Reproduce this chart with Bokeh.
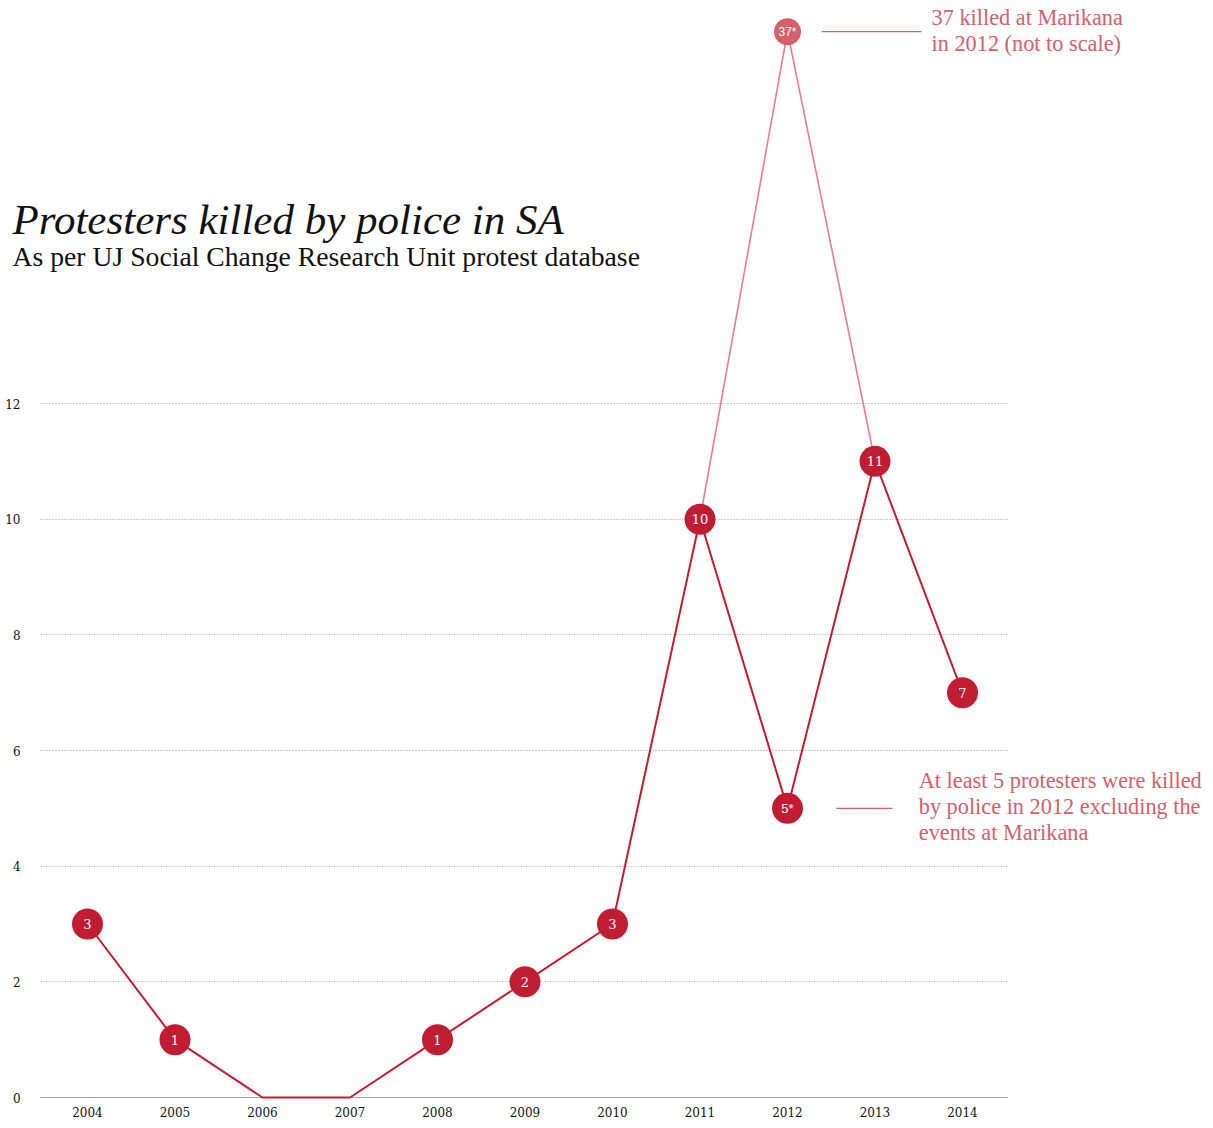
from bokeh.plotting import figure
from bokeh.models import FixedTicker, Range1d, Label
from bokeh.core.properties import value
from bokeh.embed import file_html
from bokeh.resources import INLINE

# ---- data ----
years = [2004, 2005, 2006, 2007, 2008, 2009, 2010, 2011, 2012, 2013, 2014]
killed = [3, 1, 0, 0, 1, 2, 3, 10, 5, 11, 7]
point_labels = ["3", "1", "", "", "1", "2", "3", "10", "5*", "11", "7"]
# Marikana path: 2012 value of 37 is drawn "not to scale"
marikana_years = [2011, 2012, 2013]
marikana_plot_values = [10, 18.43, 11]
marikana_label = "37*"
y_ticks = [0, 2, 4, 6, 8, 10, 12]

RED = "#c01d32"
PINK = "#d4606c"
PALE = "#e27f8b"

X0, X1 = 2003.0057, 2016.7771     # full canvas
PX0, PX1 = 2003.463, 2014.514     # plotting area (grid / axis extent)
Y0, Y1 = -0.3977, 18.969

p = figure(width=1205, height=1120, output_backend="svg", toolbar_location=None,
           x_range=Range1d(X0, X1), y_range=Range1d(Y0, Y1),
           min_border_left=0, min_border_right=0, min_border_top=0,
           min_border_bottom=0)
p.outline_line_color = None
p.background_fill_color = "white"
p.border_fill_color = "white"

# axes (fixed inside the canvas)
p.xaxis.ticker = FixedTicker(ticks=years)
p.yaxis.ticker = FixedTicker(ticks=y_ticks)
p.xaxis.fixed_location = 0
p.yaxis.fixed_location = PX0
p.xaxis.bounds = (PX0, PX1)
p.yaxis.bounds = (0, 12)
p.xaxis.level = "underlay"
p.xaxis.major_tick_line_color = None
p.xaxis.minor_tick_line_color = None
p.yaxis.major_tick_line_color = None
p.yaxis.minor_tick_line_color = None
p.yaxis.axis_line_color = None
p.xaxis.axis_line_color = "#aaaaaa"
p.xaxis.axis_line_width = 1
for ax in (p.xaxis, p.yaxis):
    ax.major_label_text_font = "DejaVu Serif"
    ax.major_label_text_font_size = "12px"
    ax.major_label_text_color = "#111111"
p.xaxis.major_label_standoff = 3
p.yaxis.major_label_standoff = 14
p.xgrid.grid_line_color = None

grid = p.ygrid[0]
if "cross_bounds" in grid.properties():
    grid.cross_bounds = (PX0, PX1)
    grid.grid_line_color = "#999999"
    grid.grid_line_dash = "1 2"
    grid.grid_line_width = 1
else:
    grid.grid_line_color = None
    gy = [t for t in y_ticks if t > 0]
    p.segment(x0=[PX0] * len(gy), y0=gy, x1=[PX1] * len(gy), y1=gy,
              line_color="#999999", line_dash="1 2", line_width=1)

# Marikana pale path
p.line(marikana_years, marikana_plot_values, line_color=PALE, line_width=1.6)

# main line
p.line(years, killed, line_color=RED, line_width=2)

# markers for non-zero values
nz = [i for i, v in enumerate(killed) if v > 0]
p.scatter([years[i] for i in nz], [killed[i] for i in nz], size=31,
          marker="circle", fill_color=RED, line_color=None)

serif_idx = [i for i in nz if "*" not in point_labels[i]]
star_idx = [i for i in nz if "*" in point_labels[i]]
p.text([years[i] for i in serif_idx], [killed[i] for i in serif_idx],
       text=[point_labels[i] for i in serif_idx], text_color="white",
       text_font=value("DejaVu Serif"), text_font_size="13px",
       text_align="center", text_baseline="middle")
p.text([years[i] for i in star_idx], [killed[i] for i in star_idx],
       text=[point_labels[i] for i in star_idx], text_color="white",
       text_font=value("Liberation Sans"), text_font_size="13px",
       text_align="center", text_baseline="middle")

# Marikana marker
p.scatter([marikana_years[1]], [marikana_plot_values[1]], size=27,
          marker="circle", fill_color=PINK, line_color=None)
p.text([marikana_years[1]], [marikana_plot_values[1]], text=[marikana_label],
       text_color="white", text_font=value("Liberation Sans"),
       text_font_size="12px", text_align="center", text_baseline="middle")

# annotations: leader lines and notes
m_y = marikana_plot_values[1]
p.segment(x0=[2012 + 0.389], y0=[m_y], x1=[2012 + 1.531], y1=[m_y],
          line_color=PINK, line_width=1.2)
p.segment(x0=[2012 + 0.560], y0=[killed[8]], x1=[2012 + 1.200],
          y1=[killed[8]], line_color=PINK, line_width=1.2)

p.add_layout(Label(x=2013.646, y=18.45, text="37 killed at Marikana\nin 2012 (not to scale)",
                   text_font="Liberation Serif", text_font_size="22.3px",
                   text_color=PINK, text_baseline="middle",
                   text_line_height=1.03))
p.add_layout(Label(x=2013.50, y=5.03,
                   text="At least 5 protesters were killed\nby police in 2012 excluding the\nevents at Marikana",
                   text_font="Liberation Serif", text_font_size="22.3px",
                   text_color=PINK, text_baseline="middle",
                   text_line_height=1.03))

# title & subtitle
p.add_layout(Label(x=2003.143, y=15.18, text="Protesters killed by police in SA",
                   text_font="Liberation Serif", text_font_style="italic",
                   text_font_size="43px", text_color="#111111",
                   text_baseline="alphabetic"))
p.add_layout(Label(x=2003.143, y=14.54,
                   text="As per UJ Social Change Research Unit protest database",
                   text_font="Liberation Serif", text_font_size="27.7px",
                   text_color="#111111", text_baseline="alphabetic"))

open("out.html", "w").write(file_html(p, INLINE))
